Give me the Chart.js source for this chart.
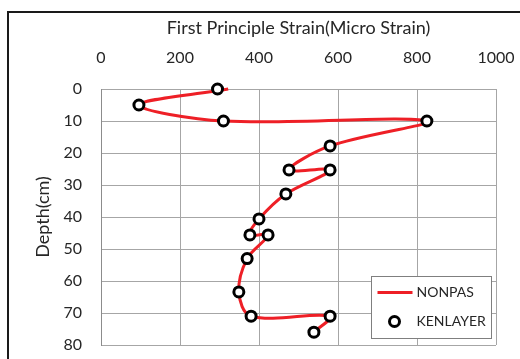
<!DOCTYPE html>
<html lang="en">
<head>
<meta charset="UTF-8">
<title>First Principle Strain vs Depth</title>
<script src="https://cdn.jsdelivr.net/npm/chart.js"></script>
<style>
  body { margin: 0; background: #fff; }
  #wrap { position: relative; width: 520px; height: 359px; overflow: hidden; }
  #frame {
    position: absolute; left: 7px; top: 11px; width: 600px; height: 400px;
    border-left: 2px solid #1a1a1a; border-top: 2px solid #1a1a1a;
    pointer-events: none;
  }
  canvas { position: absolute; left: 0; top: 0; }
</style>
</head>
<body>
<div id="wrap">
  <canvas id="strainChart" width="520" height="359"></canvas>
  <div id="frame"></div>
</div>
<script>
const strainTicks = [0, 200, 400, 600, 800, 1000];
const depthTicks = [0, 10, 20, 30, 40, 50, 60, 70, 80];

// KENLAYER points (micro strain, depth cm)
const kenStrain = [295, 96, 310, 825, 580, 476, 580, 468, 400, 377, 423, 370, 349, 380, 580, 539];
const kenDepth  = [0, 5, 10, 10, 17.8, 25.3, 25.3, 32.8, 40.6, 45.6, 45.6, 53, 63.4, 71, 71, 76];

// NONPAS curve
const nonpasStrain = [322, 96, 310, 825, 580, 476, 580, 468, 400, 377, 423, 370, 349, 380, 580, 539];
const nonpasDepth  = [0, 5, 10, 10, 17.8, 25.3, 25.3, 32.8, 40.6, 45.6, 45.6, 53, 63.4, 71, 71, 76];

const textColor = '#262626';
const fontFamily = 'Lato';

const toPoints = (xs, ys) => xs.map((x, i) => ({ x: x, y: ys[i] }));

// legend drawn inside the plot, bottom right, like the excel one
const boxLegend = {
  id: 'boxLegend',
  afterDraw(chart) {
    const ctx = chart.ctx;
    const area = chart.chartArea;
    const line = chart.data.datasets.find(d => d.label === 'NONPAS');
    const pts = chart.data.datasets.find(d => d.label === 'KENLAYER');
    const w = 120, h = 62;
    const bx = Math.round(area.right - 5 - w) + 0.5;
    const by = Math.round(area.bottom - 7 - h) + 0.5;
    ctx.save();
    ctx.fillStyle = '#fff';
    ctx.fillRect(bx, by, w, h);
    ctx.strokeStyle = '#7f7f7f';
    ctx.lineWidth = 1;
    ctx.strokeRect(bx, by, w, h);

    const row1 = by + 16, row2 = by + 45;
    ctx.strokeStyle = line.borderColor;
    ctx.lineWidth = line.borderWidth;
    ctx.beginPath();
    ctx.moveTo(bx + 6, row1);
    ctx.lineTo(bx + 41, row1);
    ctx.stroke();

    ctx.beginPath();
    ctx.arc(bx + 23, row2, pts.pointRadius, 0, Math.PI * 2);
    ctx.fillStyle = pts.pointBackgroundColor;
    ctx.fill();
    ctx.lineWidth = pts.pointBorderWidth;
    ctx.strokeStyle = pts.pointBorderColor;
    ctx.stroke();

    ctx.fillStyle = textColor;
    ctx.font = '14px ' + fontFamily;
    ctx.textAlign = 'left';
    ctx.textBaseline = 'middle';
    ctx.fillText(line.label, bx + 45, row1);
    ctx.fillText(pts.label, bx + 45, row2);
    ctx.restore();
  }
};

Chart.defaults.font.family = fontFamily;
Chart.defaults.color = textColor;

new Chart(document.getElementById('strainChart'), {
  type: 'scatter',
  data: {
    datasets: [
      {
        label: 'NONPAS',
        data: toPoints(nonpasStrain, nonpasDepth),
        showLine: true,
        borderColor: '#ee1f26',
        borderWidth: 3,
        tension: 0.35,
        pointRadius: 0,
        pointHoverRadius: 0,
        clip: false,
        order: 2
      },
      {
        label: 'KENLAYER',
        data: toPoints(kenStrain, kenDepth),
        showLine: false,
        pointRadius: 5,
        pointBorderWidth: 3,
        pointBorderColor: '#000',
        pointBackgroundColor: '#fff',
        clip: false,
        order: 1
      }
    ]
  },
  options: {
    responsive: false,
    animation: false,
    layout: { padding: { left: 0, top: 0, right: 24, bottom: 14 } },
    plugins: {
      legend: { display: false },
      tooltip: { enabled: false }
    },
    scales: {
      x: {
        type: 'linear',
        position: 'top',
        min: 0,
        max: 1000,
        afterBuildTicks: s => { s.ticks = strainTicks.map(v => ({ value: v })); },
        afterFit: s => { s.height = 89; s.paddingLeft = 0; s.paddingRight = 0; },
        ticks: { padding: 22, font: { size: 16 }, color: textColor, callback: v => String(v) },
        grid: { color: '#a6a6a6', lineWidth: 1, drawTicks: false },
        border: { display: true, color: '#a6a6a6' },
        title: {
          display: true,
          text: 'First Principle Strain(Micro Strain)',
          font: { size: 18 },
          color: textColor,
          padding: { top: 17, bottom: 0 }
        }
      },
      y: {
        type: 'linear',
        reverse: true,
        min: 0,
        max: 80,
        afterBuildTicks: s => { s.ticks = depthTicks.map(v => ({ value: v })); },
        afterFit: s => { s.width = 101; s.paddingTop = 0; s.paddingBottom = 0; },
        ticks: { padding: 19, font: { size: 16 }, color: textColor, callback: v => String(v) },
        grid: { color: '#a6a6a6', lineWidth: 1, drawTicks: false },
        border: { display: true, color: '#8c8c8c' },
        title: {
          display: true,
          text: 'Depth(cm)',
          font: { size: 18 },
          color: textColor,
          padding: { top: 32, bottom: 0 }
        }
      }
    }
  },
  plugins: [boxLegend]
});
</script>
</body>
</html>
